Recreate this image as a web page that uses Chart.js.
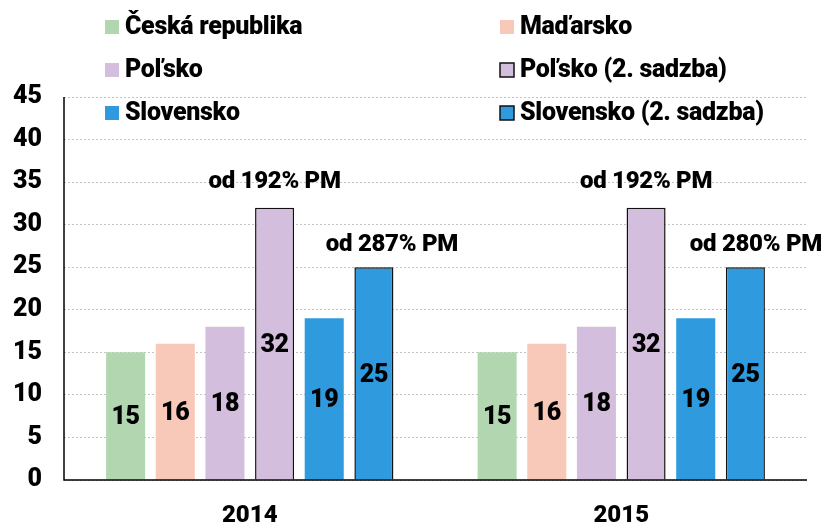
<!DOCTYPE html>
<html>
<head>
<meta charset="utf-8">
<script src="https://cdn.jsdelivr.net/npm/chart.js@4"></script>
<style>
  html, body { margin: 0; padding: 0; background: #fff; }
  #wrap { width: 825px; height: 524px; }
</style>
</head>
<body>
<div id="wrap"><canvas id="graf" width="825" height="524"></canvas></div>
<script>
// roky
const kategorie = ['2014', '2015'];

// sadzby podla krajin
const ceskaRepublika = [15, 15];
const madarsko = [16, 16];
const polsko = [18, 18];
const polsko2 = [32, 32];
const slovensko = [19, 19];
const slovensko2 = [25, 25];

// popisky nad stlpcami druhej sadzby
const poznamkyPolsko2 = ['od 192% PM', 'od 192% PM'];
const poznamkySlovensko2 = ['od 287% PM', 'od 280% PM'];

const FONT = 'Roboto, "Liberation Sans", sans-serif';
const VAHA = '900';

const legendaPlugin = {
    id: 'legenda',
    afterDraw(chart) {
        const ctx = chart.ctx;
        ctx.save();
        ctx.font = VAHA + ' 25px ' + FONT;
        ctx.letterSpacing = '-0.3px';
        ctx.textBaseline = 'middle';
        ctx.textAlign = 'left';
        const stlpce = [105, 500];
        const riadky = [27, 70, 113];
        chart.data.datasets.forEach(function (ds, i) {
            const x = stlpce[i % 2];
            const y = riadky[Math.floor(i / 2)];
            ctx.fillStyle = ds.backgroundColor;
            ctx.fillRect(x, y - 7, 14, 14);
            if (ds.borderWidth) {
                ctx.strokeStyle = '#111';
                ctx.lineWidth = 1.5;
                ctx.strokeRect(x, y - 7, 14, 14);
            }
            ctx.fillStyle = '#000';
            ctx.fillText(ds.label, x + 20, y + 1);
        });
        ctx.restore();
    }
};

const popiskyPlugin = {
    id: 'popisky',
    afterDatasetsDraw(chart) {
        const ctx = chart.ctx;
        ctx.save();
        ctx.fillStyle = '#000';
        ctx.textBaseline = 'middle';
        ctx.textAlign = 'center';
        ctx.letterSpacing = '-0.3px';
        // hodnoty v strede stlpcov
        ctx.font = VAHA + ' 25px ' + FONT;
        chart.data.datasets.forEach(function (ds, i) {
            chart.getDatasetMeta(i).data.forEach(function (bar, j) {
                const stred = (bar.y + bar.base) / 2;
                ctx.fillText(String(ds.data[j]), bar.x, stred + 2);
            });
        });
        // poznamky nad stlpcami
        ctx.font = VAHA + ' 24px ' + FONT;
        const poznamky = [
            { index: 3, texty: poznamkyPolsko2, dx: 0, dy: 26 },
            { index: 5, texty: poznamkySlovensko2, dx: 18, dy: 22 }
        ];
        poznamky.forEach(function (p) {
            chart.getDatasetMeta(p.index).data.forEach(function (bar, j) {
                const text = p.texty[j];
                const w = ctx.measureText(text).width;
                let x = bar.x + p.dx;
                if (x + w / 2 > chart.width - 3) x = chart.width - 3 - w / 2;
                ctx.fillText(text, x, bar.y - p.dy);
            });
        });
        ctx.restore();
    }
};

// os Y a X plnou ciarou (mriezka je bodkovana)
const osPlugin = {
    id: 'os',
    afterDatasetsDraw(chart) {
        const a = chart.chartArea;
        const ctx = chart.ctx;
        ctx.save();
        ctx.strokeStyle = '#000';
        ctx.lineWidth = 1.5;
        ctx.setLineDash([]);
        ctx.beginPath();
        ctx.moveTo(a.left, a.top);
        ctx.lineTo(a.left, a.bottom);
        ctx.lineTo(a.right, a.bottom);
        ctx.stroke();
        ctx.restore();
    }
};

const data = {
    labels: kategorie,
    datasets: [
        { label: 'Česká republika', data: ceskaRepublika, backgroundColor: '#b2d7b0', borderWidth: 0 },
        { label: 'Maďarsko', data: madarsko, backgroundColor: '#f8c9b9', borderWidth: 0 },
        { label: 'Poľsko', data: polsko, backgroundColor: '#d4bedd', borderWidth: 0 },
        { label: 'Poľsko (2. sadzba)', data: polsko2, backgroundColor: '#d4bedd', borderColor: '#111', borderWidth: 1.5 },
        { label: 'Slovensko', data: slovensko, backgroundColor: '#2f9ade', borderWidth: 0 },
        { label: 'Slovensko (2. sadzba)', data: slovensko2, backgroundColor: '#2f9ade', borderColor: '#111', borderWidth: 1.5 }
    ]
};

const ctx = document.getElementById('graf').getContext('2d');
new Chart(ctx, {
    type: 'bar',
    data: data,
    plugins: [osPlugin, popiskyPlugin, legendaPlugin],
    options: {
        responsive: false,
        animation: false,
        layout: { padding: { top: 97, right: 18, left: 0, bottom: 0 } },
        datasets: {
            bar: { categoryPercentage: 0.802, barPercentage: 0.786 }
        },
        scales: {
            x: {
                grid: { display: false },
                border: { display: false },
                ticks: {
                    color: '#000',
                    padding: 14,
                    font: { family: FONT, size: 24, weight: VAHA }
                },
                afterFit(scale) { scale.height = 44; }
            },
            y: {
                min: 0,
                max: 45,
                ticks: {
                    stepSize: 5,
                    color: '#000',
                    padding: 22,
                    font: { family: FONT, size: 25, weight: VAHA }
                },
                grid: {
                    color: '#c4c4c4',
                    lineWidth: 1,
                    drawTicks: false
                },
                border: { display: false, dash: [2, 2] },
                afterFit(scale) { scale.width = 64; }
            }
        },
        plugins: {
            legend: { display: false },
            tooltip: { enabled: false }
        }
    }
});
</script>
</body>
</html>
